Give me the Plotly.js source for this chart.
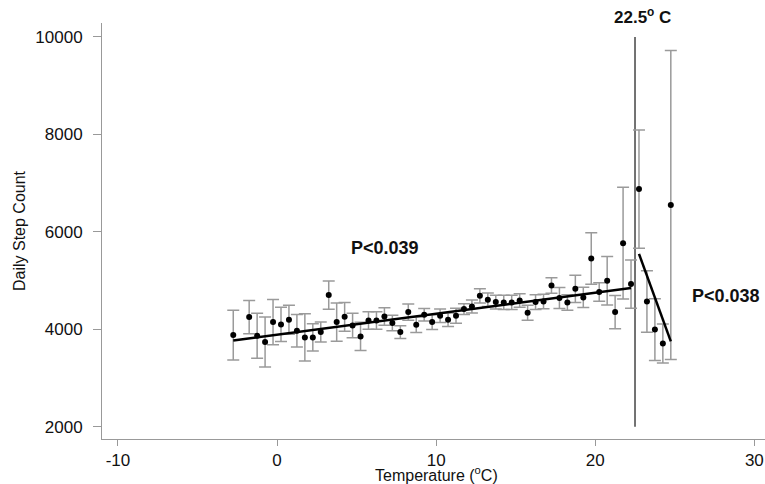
<!DOCTYPE html>
<html>
<head>
<meta charset="utf-8">
<script src="https://cdn.plot.ly/plotly-3.0.1.min.js"></script>
<style>html,body{margin:0;padding:0;background:#fff;}#chart{width:765px;height:484px;}</style>
</head>
<body>
<div id="chart"></div>
<script>
// Temperature bin centres (°C)
var temps = [-2.75, -1.75, -1.25, -0.75, -0.25, 0.25, 0.75, 1.25, 1.75, 2.25, 2.75, 3.25, 3.75, 4.25, 4.75,
             5.25, 5.75, 6.25, 6.75, 7.25, 7.75, 8.25, 8.75, 9.25, 9.75, 10.25, 10.75, 11.25, 11.75, 12.25,
             12.75, 13.25, 13.75, 14.25, 14.75, 15.25, 15.75, 16.25, 16.75, 17.25, 17.75, 18.25, 18.75, 19.25,
             19.75, 20.25, 20.75, 21.25, 21.75, 22.25, 22.75, 23.25, 23.75, 24.25, 24.75];
// Mean daily step count per bin
var steps = [3881, 4250, 3866, 3737, 4147, 4099, 4195, 3969, 3832, 3832, 3942, 4701, 4147, 4256, 4078,
             3852, 4180, 4180, 4262, 4127, 3942, 4352, 4092, 4297, 4147, 4277, 4195, 4277, 4414, 4467,
             4687, 4605, 4558, 4550, 4550, 4590, 4340, 4558, 4570, 4898, 4640, 4550, 4830, 4652,
             5452, 4763, 4995, 4352, 5768, 4927, 6878, 4570, 3993, 3706, 6553];
// Error bar half-widths
var stepErr = [510, 342, 462, 513, 465, 352, 298, 332, 485, 280, 205, 290, 393, 295, 250,
               290, 180, 180, 178, 160, 130, 165, 157, 127, 150, 140, 137, 154, 110, 133,
               147, 137, 140, 147, 147, 140, 153, 150, 150, 161, 215, 160, 280, 208,
               530, 190, 496, 341, 1145, 495, 1213, 633, 632, 400, 3172];
// Fitted segments
var fit1X = [-2.75, 22.25];
var fit1Y = [3770, 4845];
var fit2X = [22.75, 24.75];
var fit2Y = [5548, 3750];
// Breakpoint
var breakX = [22.5, 22.5];
var breakY = [2000, 10000];
// Ticks
var xTicks = [-10, 0, 10, 20, 30];
var yTicks = [2000, 4000, 6000, 8000, 10000];
var labels = {p1: 'P<0.039', p2: 'P<0.038', brk: '22.5<sup>o</sup> C',
              xTitle: 'Temperature (<sup>o</sup>C)', yTitle: 'Daily Step Count'};

var FONT = 'Liberation Sans, Arial, Helvetica, sans-serif';

var traces = [
  {x: breakX, y: breakY, mode: 'lines', line: {color: '#444', width: 1.5}, hoverinfo: 'skip'},
  {x: temps, y: steps, mode: 'markers', type: 'scatter',
   marker: {color: '#000', size: 6},
   error_y: {type: 'data', array: stepErr, visible: true, color: '#9a9a9a', thickness: 1.5, width: 6}},
  {x: fit1X, y: fit1Y, mode: 'lines', line: {color: '#000', width: 2.5}},
  {x: fit2X, y: fit2Y, mode: 'lines', line: {color: '#000', width: 2.5}}
];

var layout = {
  width: 765, height: 484,
  margin: {l: 102, r: 0, t: 23, b: 45},
  paper_bgcolor: '#fff', plot_bgcolor: '#fff',
  showlegend: false,
  font: {family: FONT, size: 16, color: '#111'},
  xaxis: {
    range: [-11.0, 30.67], tickvals: xTicks, ticktext: xTicks.map(String),
    showgrid: false, zeroline: false, showline: true, linecolor: '#999', linewidth: 1,
    ticks: 'outside', ticklen: 6, tickcolor: '#999', tickfont: {size: 17, color: '#111'},
    automargin: false
  },
  yaxis: {
    range: [1747, 10287], tickvals: yTicks, ticktext: yTicks.map(String),
    showgrid: false, zeroline: false, showline: true, linecolor: '#999', linewidth: 1,
    ticks: 'outside', ticklen: 8, tickcolor: '#999', tickfont: {size: 17, color: '#111'},
    ticklabelstandoff: 7,
    title: {text: labels.yTitle, font: {size: 16, color: '#111'}, standoff: 5},
    automargin: false
  },
  annotations: [
    {x: 10, y: 0, xref: 'x', yref: 'paper', yanchor: 'top', yshift: -23, text: labels.xTitle, showarrow: false,
     font: {size: 16, color: '#111'}},
    {x: 6.77, y: 5669, xref: 'x', yref: 'y', text: '<b>' + labels.p1 + '</b>', showarrow: false,
     font: {size: 18, color: '#111'}},
    {x: 28.2, y: 4683, xref: 'x', yref: 'y', text: '<b>' + labels.p2 + '</b>', showarrow: false,
     font: {size: 18, color: '#111'}},
    {x: 23.0, y: 1, xref: 'x', yref: 'paper', yanchor: 'bottom', yshift: -6, text: '<b>' + labels.brk + '</b>', showarrow: false,
     font: {size: 17, color: '#111'}}
  ]
};

Plotly.newPlot('chart', traces, layout, {displayModeBar: false, staticPlot: true});
</script>
</body>
</html>
